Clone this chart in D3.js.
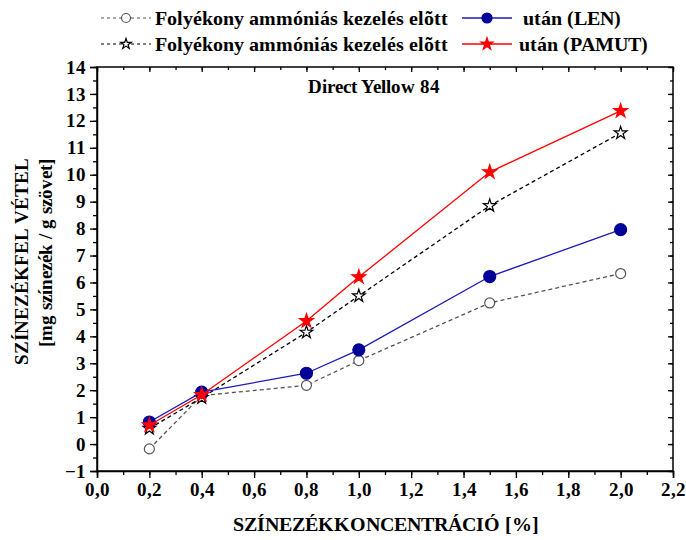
<!DOCTYPE html>
<html><head><meta charset="utf-8">
<script src="https://cdn.jsdelivr.net/npm/d3@7"></script>
<style>
@font-face { font-family: "ChartSerif"; font-weight: bold;
  src: local("Liberation Serif Bold"), local("LiberationSerif-Bold"), local("Times New Roman Bold"), local("Tinos Bold"); }
</style>
</head><body style="margin:0"><svg id="c" width="686" height="540"></svg>
<script>
// Concentrations (%) and dye uptake (mg dye / g fabric)
const conc = [0.2, 0.4, 0.8, 1.0, 1.5, 2.0];
const lenBefore = [-0.18, 1.8, 2.18, 3.1, 5.24, 6.33];
const lenAfter = [0.82, 1.93, 2.63, 3.5, 6.22, 7.96];
const pamutBefore = [0.58, 1.72, 4.15, 5.5, 8.85, 11.55];
const pamutAfter = [0.7, 1.83, 4.57, 6.2, 10.1, 12.37];
const xTicks = [0,0.2,0.4,0.6,0.8,1.0,1.2,1.4,1.6,1.8,2.0,2.2];
const yTicks = d3.range(-1, 15, 1);

const FONT = "ChartSerif, 'Times New Roman', Times, 'Liberation Serif'";
const svg = d3.select("#c");
const L = 97, R = 673, T = 67, B = 471;
const x = d3.scaleLinear().domain([0, 2.2]).range([L, R]);
const y = d3.scaleLinear().domain([-1, 14]).range([B, T]);
const fmt = d => d3.format(".1f")(d).replace(".", ",");

// frame
svg.append("rect").attr("x", L).attr("y", T).attr("width", R - L).attr("height", B - T)
  .attr("fill", "none").attr("stroke", "#000").attr("stroke-width", 1.5);

// axes: labelled ticks outside on bottom/left, mirrored inward ticks on top/right
const xMinor = d3.range(0, 2.21, 0.1);
const yMinor = d3.range(-1, 14.01, 0.5);
function axis(transform, gen) {
  return svg.append("g").attr("transform", transform).call(gen).attr("font-family", null);
}
axis(`translate(0,${B})`, d3.axisBottom(x).tickValues(xTicks).tickFormat(fmt).tickSize(7).tickPadding(5));
axis(`translate(0,${B})`, d3.axisBottom(x).tickValues(xMinor).tickFormat("").tickSize(4)).select(".domain").remove();
axis(`translate(${L},0)`, d3.axisLeft(y).tickValues(yTicks).tickFormat(d3.format("d")).tickSize(7).tickPadding(4));
axis(`translate(${L},0)`, d3.axisLeft(y).tickValues(yMinor).tickFormat("").tickSize(4)).select(".domain").remove();
axis(`translate(0,${T})`, d3.axisBottom(x).tickValues(xTicks).tickFormat("").tickSize(5)).select(".domain").remove();
axis(`translate(0,${T})`, d3.axisBottom(x).tickValues(xMinor).tickFormat("").tickSize(3)).select(".domain").remove();
axis(`translate(${R},0)`, d3.axisLeft(y).tickValues(yTicks).tickFormat("").tickSize(5)).select(".domain").remove();
axis(`translate(${R},0)`, d3.axisLeft(y).tickValues(yMinor).tickFormat("").tickSize(3)).select(".domain").remove();
svg.selectAll(".domain").attr("stroke-width", 1.5);
svg.selectAll(".tick line").attr("stroke-width", 1.3);

function label(sel) {
  return sel.attr("font-family", FONT).style("font-family", FONT).attr("font-weight", "bold").attr("fill", "#000");
}
label(svg.selectAll(".tick text")).attr("font-size", 19);

// titles
label(svg.append("text")).attr("x", 386).attr("y", 531).attr("text-anchor", "middle").attr("font-size", 20)
  .text("SZÍNEZÉKKONCENTRÁCIÓ [%]");
label(svg.append("text")).attr("transform", "translate(28,261) rotate(-90)").attr("text-anchor", "middle").attr("font-size", 19)
  .text("SZÍNEZÉKFEL VÉTEL");
label(svg.append("text")).attr("transform", "translate(52,253) rotate(-90)").attr("text-anchor", "middle").attr("font-size", 19)
  .text("[mg színezék / g szövet]");
label(svg.append("text")).attr("x", 374).attr("y", 93).attr("text-anchor", "middle").attr("font-size", 19)
  .text("Direct Yellow 84");

const star = d3.symbol().type(d3.symbolStar);
const series = [
  {v: lenBefore, stroke: "#555", dash: "4,3", mark: "circle", mfill: "#fff", mstroke: "#555", r: 5},
  {v: pamutBefore, stroke: "#000", dash: "4,3", mark: "star", mfill: "#fff", mstroke: "#000", size: 50},
  {v: lenAfter, stroke: "#1a1ab8", dash: null, mark: "circle", mfill: "#000099", mstroke: "#000099", r: 6},
  {v: pamutAfter, stroke: "#ff0000", dash: null, mark: "star", mfill: "#ff0000", mstroke: "#ff0000", size: 60}
];
const line = d3.line().x(d => x(d[0])).y(d => y(d[1]));

function drawMark(g, s, cx, cy) {
  if (s.mark === "circle") {
    g.append("circle").attr("cx", cx).attr("cy", cy).attr("r", s.r)
      .attr("fill", s.mfill).attr("stroke", s.mstroke).attr("stroke-width", 1.2);
  } else {
    g.append("path").attr("d", star.size(s.size)()).attr("transform", `translate(${cx},${cy})`)
      .attr("fill", s.mfill).attr("stroke", s.mstroke).attr("stroke-width", 1.2);
  }
}

series.forEach(s => {
  const pts = conc.map((c, i) => [c, s.v[i]]);
  svg.append("path").attr("d", line(pts)).attr("fill", "none").attr("stroke", s.stroke)
    .attr("stroke-width", 1.3).attr("stroke-dasharray", s.dash);
  const g = svg.append("g");
  pts.forEach(p => drawMark(g, s, x(p[0]), y(p[1])));
});

// legend
const legendRows = [
  {y: 18, a: series[0], b: series[2], label: "után (LEN)", bx: 462, tx: 523},
  {y: 44, a: series[1], b: series[3], label: "után (PAMUT)", bx: 462, tx: 519}
];
legendRows.forEach(row => {
  const g = svg.append("g");
  g.append("line").attr("x1", 101).attr("x2", 151).attr("y1", row.y).attr("y2", row.y)
    .attr("stroke", row.a.stroke).attr("stroke-width", 1).attr("stroke-dasharray", "3,3");
  drawMark(g, Object.assign({}, row.a, {r: 4.5, size: 35}), 126, row.y);
  label(g.append("text")).attr("x", 155).attr("y", row.y + 7).attr("font-size", 20).text("Folyékony ammóniás kezelés elõtt");
  g.append("line").attr("x1", row.bx).attr("x2", row.bx + 50).attr("y1", row.y).attr("y2", row.y)
    .attr("stroke", row.b.stroke).attr("stroke-width", 1.5);
  drawMark(g, Object.assign({}, row.b, {r: 5, size: 45}), row.bx + 25, row.y);
  label(g.append("text")).attr("x", row.tx).attr("y", row.y + 7).attr("font-size", 20).text(row.label);
});
</script></body></html>
